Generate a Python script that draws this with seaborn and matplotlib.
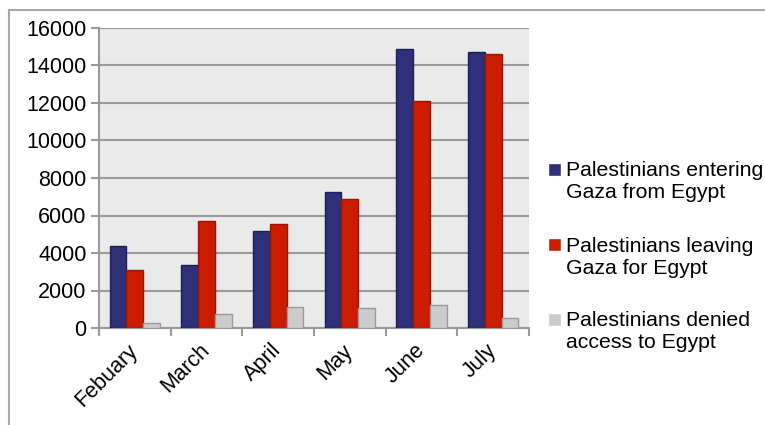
import pandas as pd
import matplotlib.pyplot as plt
import seaborn as sns
from matplotlib.patches import Rectangle
from matplotlib.legend_handler import HandlerPatch

months = ['Febuary', 'March', 'April', 'May', 'June', 'July']
entering = [4400, 3350, 5200, 7250, 14870, 14740]
leaving = [3110, 5720, 5530, 6870, 12110, 14630]
denied = [290, 760, 1140, 1050, 1240, 520]

series_names = ['Palestinians entering\nGaza from Egypt',
                'Palestinians leaving\nGaza for Egypt',
                'Palestinians denied\naccess to Egypt']
colors = ['#2E3079', '#CC1C00', '#CCCCCC']
edges = ['#1E1F55', '#9A1500', '#9A9A9A']

df = pd.DataFrame({
    'month': months * 3,
    'value': entering + leaving + denied,
    'series': [s for s in series_names for _ in months],
})

sns.set_style('white')
plt.rcParams['font.family'] = ['Liberation Sans', 'DejaVu Sans']
plt.rcParams['text.color'] = 'black'
plt.rcParams['xtick.labelcolor'] = 'black'
plt.rcParams['ytick.labelcolor'] = 'black'

fig = plt.figure(figsize=(7.65, 4.25), dpi=100)
ax = fig.add_axes([99 / 765, 1 - 328 / 425, 430 / 765, 300 / 425])

sns.barplot(data=df, x='month', y='value', hue='series', order=months,
            hue_order=series_names, palette=colors, width=0.7,
            saturation=1, ax=ax, zorder=3)

# darker outlines per series
for cont, ec in zip(ax.containers, edges):
    for bar in cont:
        bar.set_edgecolor(ec)
        bar.set_linewidth(1.0)

ax.set_facecolor('#EAEAEA')
ax.set_xlim(-0.5, 5.5)
ax.set_ylim(0, 16000)
ax.set_yticks(range(0, 16001, 2000))
ax.grid(axis='y', color='#9A9A9A', linewidth=1.5, zorder=0)
ax.set_axisbelow(True)
ax.set_xlabel('')
ax.set_ylabel('')

for side in ['top', 'right']:
    ax.spines[side].set_visible(False)
for side in ['left', 'bottom']:
    ax.spines[side].set_color('#9A9A9A')
    ax.spines[side].set_linewidth(1.5)

# tick marks between categories
ax.set_xticks([i - 0.5 for i in range(len(months) + 1)], minor=True)
ax.tick_params(axis='x', which='major', length=0, pad=14, labelsize=15.5)
ax.tick_params(axis='x', which='minor', length=6, width=1.5, color='#9A9A9A', direction='out')
ax.tick_params(axis='y', length=6, width=1.5, color='#9A9A9A', direction='out',
               labelsize=15.5, pad=3)
ax.tick_params(left=True, bottom=True, which='both')
plt.setp(ax.get_xticklabels(), rotation=45, ha='right', va='center',
         rotation_mode='anchor')


def square_up(legend, orig_handle, xdescent, ydescent, width, height, fontsize):
    return Rectangle((-xdescent, -ydescent + 0.6 * fontsize), width, height)


handles, labels = ax.get_legend_handles_labels()
ax.legend(handles, labels, loc='center left', bbox_to_anchor=(548 / 765, 1 - 257 / 425),
          bbox_transform=fig.transFigure, frameon=False, fontsize=15.3,
          handlelength=0.6, handleheight=0.6, handletextpad=0.25,
          labelspacing=1.6, borderpad=0, borderaxespad=0,
          handler_map={h: HandlerPatch(patch_func=square_up) for h in handles})

# outer chart frame
fig.patches.append(Rectangle((9 / 765, -0.2), 1.2, 1.2 - 10 / 425,
                             transform=fig.transFigure, fill=False,
                             edgecolor='#A8A8A8', linewidth=1.5))

fig.savefig('out.png', dpi=100)
